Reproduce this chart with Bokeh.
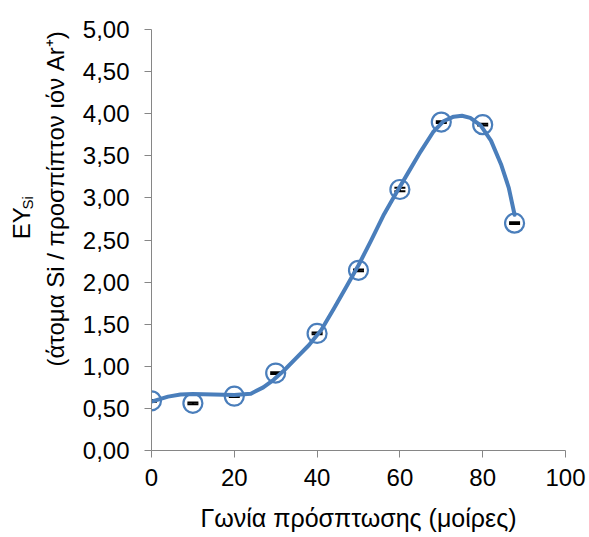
import numpy as np
from bokeh.plotting import figure
from bokeh.layouts import row
from bokeh.models import Range1d, Whisker, ColumnDataSource, TeeHead, FixedTicker, CustomJSTickFormatter
from bokeh.core.properties import value
from bokeh.embed import file_html
from bokeh.resources import INLINE

angle = [0, 10, 20, 30, 40, 50, 60, 70, 80, 87.7]
yield_si = [0.59, 0.56, 0.645, 0.92, 1.39, 2.14, 3.10, 3.90, 3.87, 2.70]
err = [0.01, 0.01, 0.01, 0.01, 0.01, 0.01, 0.02, 0.01, 0.01, 0.01]

# fitted curve
fit_x = [0, 2, 4, 7, 10, 15, 20, 24, 27, 29.5, 32, 35, 38, 41, 44, 47, 50, 53, 56, 59,
         62, 65, 68, 70.5, 73, 75, 77, 79.5, 82, 84.5, 86.3, 87.7]
fit_y = [0.58, 0.61, 0.64, 0.665, 0.672, 0.665, 0.66, 0.675, 0.75, 0.84, 0.95, 1.10, 1.25,
         1.43, 1.68, 1.94, 2.20, 2.49, 2.79, 3.05, 3.30, 3.55, 3.78, 3.91, 3.965, 3.975,
         3.95, 3.86, 3.68, 3.39, 3.12, 2.80]

x_ticks = [0, 20, 40, 60, 80, 100]
y_ticks = [0, 0.5, 1, 1.5, 2, 2.5, 3, 3.5, 4, 4.5, 5]

x_title = "Γωνία πρόσπτωσης (μοίρες)"
y_title_main = "EY"
y_title_sub = "Si"
y_title_unit = "(άτομα Si / προσπίπτον ιόν Ar⁺)"

BLUE = "#4A7EBB"
AXIS = "#868686"
FONT = "Liberation Sans"
FS = "24px"
LEFT_W = 76

# ---- main chart ----
p = figure(width=589 - LEFT_W, height=537, output_backend="svg", toolbar_location=None,
           x_range=Range1d(0, 100), y_range=Range1d(0, 5),
           min_border_left=151 - LEFT_W, min_border_right=24, min_border_top=29, min_border_bottom=87)
p.outline_line_color = None
p.xgrid.visible = False
p.ygrid.visible = False

for ax in (p.xaxis, p.yaxis):
    ax.axis_line_color = AXIS
    ax.major_tick_line_color = AXIS
    ax.minor_tick_line_color = None
    ax.major_tick_in = 0
    ax.major_tick_out = 7
    ax.major_label_text_font = FONT
    ax.major_label_text_font_size = FS
    ax.major_label_text_color = "black"

p.xaxis.ticker = FixedTicker(ticks=x_ticks)
p.yaxis.ticker = FixedTicker(ticks=y_ticks)
p.yaxis.formatter = CustomJSTickFormatter(code="return tick.toFixed(2).replace('.', ',');")
p.xaxis.major_label_standoff = 11
p.yaxis.major_label_standoff = 15

p.xaxis.axis_label = x_title
p.xaxis.axis_label_text_font = FONT
p.xaxis.axis_label_text_font_size = "25px"
p.xaxis.axis_label_text_font_style = "normal"
p.xaxis.axis_label_text_color = "black"
p.xaxis.axis_label_standoff = 15

src = ColumnDataSource(dict(x=angle, y=yield_si,
                            lo=[a - b for a, b in zip(yield_si, err)],
                            hi=[a + b for a, b in zip(yield_si, err)]))

p.scatter("x", "y", source=src, marker="circle", size=19, fill_color=None,
          line_color=BLUE, line_width=2.2)

p.line(fit_x, fit_y, line_color=BLUE, line_width=4, line_join="round", line_cap="round")

wh = Whisker(source=src, base="x", upper="hi", lower="lo", line_color="black", line_width=2,
             upper_head=TeeHead(size=11, line_color="black", line_width=2),
             lower_head=TeeHead(size=11, line_color="black", line_width=2))
p.add_layout(wh)

# ---- y-axis title panel (pixel-like coordinates, y downward) ----
t = figure(width=LEFT_W, height=537, output_backend="svg", toolbar_location=None,
           x_range=Range1d(0, LEFT_W), y_range=Range1d(537, 0),
           min_border=0, min_border_left=0, min_border_right=0, min_border_top=0, min_border_bottom=0)
t.axis.visible = False
t.grid.visible = False
t.outline_line_color = None

t.text(x=[55], y=[216], text=[y_title_unit], angle=np.pi / 2, text_font=value(FONT),
       text_font_size="24px", text_align="center", text_baseline="middle", text_color="black")
t.text(x=[21], y=[247], text=[y_title_main], angle=np.pi / 2, text_font=value(FONT),
       text_font_size="24px", text_align="center", text_baseline="middle", text_color="black")
t.text(x=[27], y=[221], text=[y_title_sub], angle=np.pi / 2, text_font=value(FONT),
       text_font_size="15px", text_align="center", text_baseline="middle", text_color="black")

layout = row(t, p, spacing=0)
open("out.html", "w").write(file_html(layout, INLINE))
